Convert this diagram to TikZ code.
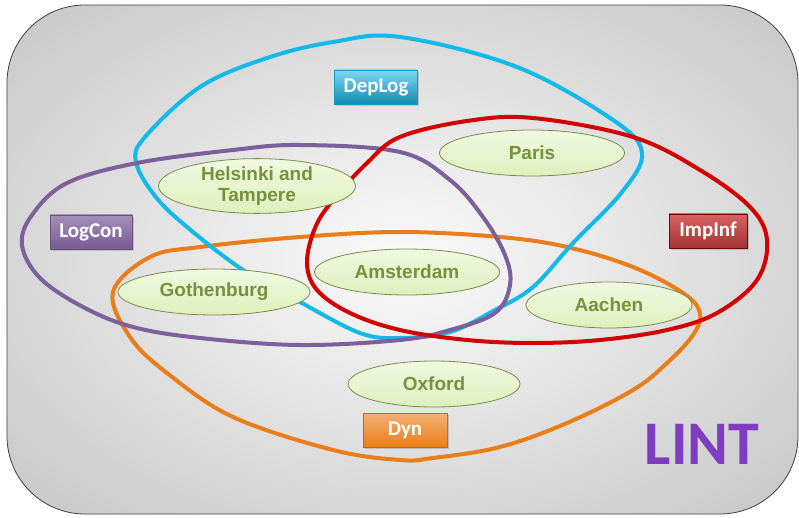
\documentclass[tikz,border=0pt]{standalone}
\usepackage{fontspec}
\usetikzlibrary{shapes.geometric,shadows}
\newfontfamily\labelfont{Carlito}
\newfontfamily\cityfont{Liberation Sans}

\definecolor{bgA}{RGB}{250,250,250}
\definecolor{bgB}{RGB}{236,236,236}
\definecolor{bgC}{RGB}{214,214,214}
\definecolor{bgD}{RGB}{192,192,192}
\definecolor{bgE}{RGB}{170,170,170}
\definecolor{bgF}{RGB}{150,150,150}
\pgfdeclareradialshading{bgshade}{\pgfpoint{0bp}{0bp}}{%
  color(0bp)=(bgA); color(10bp)=(bgB); color(25bp)=(bgC);
  color(40bp)=(bgD); color(55bp)=(bgE); color(71bp)=(bgF)}

\definecolor{depcol}{RGB}{20,185,235}
\definecolor{logcol}{RGB}{125,95,155}
\definecolor{impcol}{RGB}{210,0,0}
\definecolor{dyncol}{RGB}{235,125,25}
\definecolor{cityfill}{RGB}{240,249,224}
\definecolor{cityfillB}{RGB}{222,240,190}
\definecolor{cityedge}{RGB}{120,140,70}
\definecolor{citytext}{RGB}{118,146,60}
\definecolor{lintcol}{RGB}{128,60,190}

\begin{document}
\begin{tikzpicture}[
                x=1pt, y=-1pt,
                setline/.style={line width=4pt},
                city/.style={
                        ellipse,
                        draw=cityedge,
                        line width=0.8pt,
                        top color=cityfill,
                        bottom color=cityfillB,
                        inner sep=0pt,
                        minimum height=46pt,
                        align=center,
                        text=citytext,
                        font=\cityfont\bfseries\fontsize{19}{21}\selectfont
                    },
                tag/.style={
                        rectangle,
                        minimum height=34pt,
                        inner sep=0pt,
                        text=white,
                        font=\labelfont\bfseries\fontsize{21}{24}\selectfont,
                        drop shadow={shadow xshift=1.5pt, shadow yshift=-2pt, opacity=0.35}
                    }
            ]
            \useasboundingbox (0,0) rectangle (799,518);

            % Background
            \draw[black!75, line width=0.8pt, shading=bgshade, rounded corners=78pt]
            (7,5) rectangle (798,514);

            % Sets
            \draw[setline, dyncol] plot[smooth cycle, tension=0.6] coordinates {
                (113,292) (150,257) (200,247) (300,237) (400,232) (500,237)
                (567,247) (633,267) (683,293) (700,313) (693,335) (667,363)
                (633,390) (567,423) (500,447) (433,458) (400,460) (333,450)
                (233,417) (167,373) (130,337)};
            \draw[setline, depcol] plot[smooth cycle, tension=0.6] coordinates {
                (400,37) (517,67) (613,120) (642,153) (622,192) (573,243)
                (533,287) (495,310) (450,332) (400,338) (360,333) (300,302)
                (243,270) (187,227) (155,196) (136,162) (145,137) (200,87)
                (267,58) (333,42)};
            \draw[setline, logcol] plot[smooth cycle, tension=0.6] coordinates {
                (22,245) (32,215) (67,183) (137,163) (233,150) (300,145)
                (400,152) (450,180) (483,217) (505,255) (510,285) (495,313)
                (450,330) (400,340) (300,345) (200,338) (133,327) (83,307)
                (40,278)};
            \draw[setline, impcol] plot[smooth cycle, tension=0.6] coordinates {
                (307,263) (315,228) (333,200) (367,163) (400,137) (467,121)
                (533,118) (633,137) (700,170) (750,207) (767,240) (757,280)
                (717,313) (667,330) (600,340) (533,343) (467,340) (400,330)
                (350,313) (317,290)};

            % Cities
            \node[city, minimum width=185pt] (paris) at (532,153) {Paris};
            \node[city, minimum width=197pt] (helsinki) at (257,186) {Helsinki and\\Tampere};
            \node[city, minimum width=185pt] (amsterdam) at (407,272) {Amsterdam};
            \node[city, minimum width=192pt] (gothenburg) at (214,292) {Gothenburg};
            \node[city, minimum width=166pt] (aachen) at (609,305) {Aachen};
            \node[city, minimum width=172pt] (oxford) at (434,384) {Oxford};

            % Set labels
            \node[tag, minimum width=83pt, draw=black!15!depcol,
                top color=depcol!55!white, bottom color=depcol!75!black] (deplog) at (376,87) {DepLog};
            \node[tag, minimum width=82pt, draw=black!15!logcol,
                top color=logcol!70!white, bottom color=logcol!95!black] (logcon) at (91,232) {LogCon};
            \node[tag, minimum width=78pt, draw=black!15!red!60!black,
                top color=red!55!white!85!black, bottom color=red!55!black!80!white] (impinf) at (708,231) {ImpInf};
            \node[tag, minimum width=84pt, draw=black!15!dyncol,
                top color=dyncol!60!white, bottom color=dyncol] (dyn) at (405,430) {Dyn};

            % Title
            \node[text=lintcol, font=\labelfont\bfseries\fontsize{62}{62}\selectfont] (lint) at (702,444) {LINT};

        \end{tikzpicture}
\end{document}
